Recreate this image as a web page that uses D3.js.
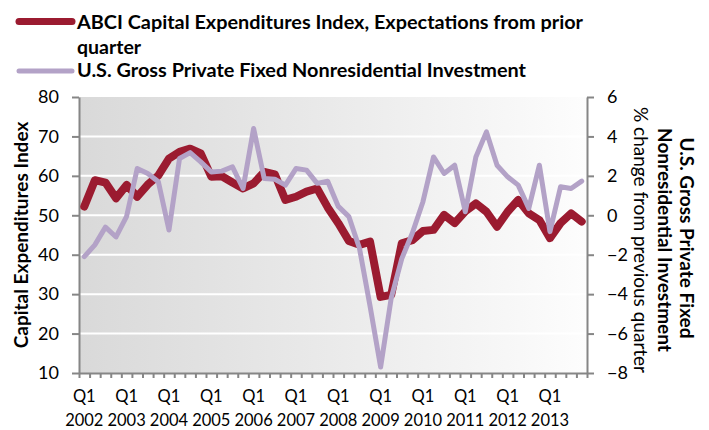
<!DOCTYPE html>
<html>
<head>
<meta charset="utf-8">
<script src="https://cdn.jsdelivr.net/npm/d3@7"></script>
<style>
  body { margin: 0; background: #fff; }
  svg text { font-family: Lato, "Open Sans", sans-serif; fill: #000; }
  .axis path, .axis line { stroke: #868686; stroke-width: 2; }
</style>
</head>
<body>
<svg id="chart" width="709" height="430"></svg>
<script>
// quarters 2002 Q1 .. 2013 Q4
var years = ['2002', '2003', '2004', '2005', '2006', '2007', '2008', '2009', '2010', '2011', '2012', '2013'];
var quarterNames = ['Q1', 'Q2', 'Q3', 'Q4'];

// ABCI capex expectations index (left axis)
var abci = [52.2, 58.9, 58.3, 54.3, 57.7, 54.7, 57.8, 60.1, 64.4, 66.1, 66.9, 65.7,
            59.8, 59.9, 58.3, 56.8, 58.1, 61.0, 60.4, 53.9, 54.7, 56.0, 56.8, 52.0,
            48.0, 43.5, 42.5, 43.3, 29.3, 29.8, 42.9, 43.7, 46.0, 46.3, 50.1, 48.0,
            51.0, 53.0, 50.9, 47.1, 50.9, 53.9, 50.5, 48.8, 44.2, 48.0, 50.5, 48.4];

// US gross private fixed nonresidential investment, % q/q (right axis)
var investment = [-2.1, -1.5, -0.6, -1.1, -0.05, 2.37, 2.12, 1.7, -0.75, 2.88, 3.18, 2.71,
                  2.2, 2.24, 2.46, 1.36, 4.4, 1.87, 1.83, 1.53, 2.37, 2.29, 1.62, 1.73,
                  0.45, -0.07, -1.67, -4.6, -7.7, -4.2, -2.2, -0.9, 0.69, 2.96, 2.12, 2.54,
                  0.18, 2.96, 4.23, 2.54, 1.95, 1.53, 0.35, 2.54, -0.83, 1.45, 1.36, 1.73];

var leftTicks = [10, 20, 30, 40, 50, 60, 70, 80];
var rightTicks = [-8, -6, -4, -2, 0, 2, 4, 6];

var seriesNames = ['ABCI Capital Expenditures Index, Expectations from prior', 'quarter',
                   'U.S. Gross Private Fixed Nonresidential Investment'];
var colors = { abci: '#9b1b30', inv: '#b3a2c7' };

// layout
var plot = { left: 79, right: 587, top: 97, bottom: 373 };

var quarters = [];
years.forEach(function(y) {
  quarterNames.forEach(function(q) { quarters.push(q + ' ' + y); });
});

var svg = d3.select('#chart');

// scales
var x = d3.scaleBand().domain(quarters).range([plot.left, plot.right]).padding(0);
var xb = d3.scaleLinear().domain([0, quarters.length]).range([plot.left, plot.right]);
var yL = d3.scaleLinear().domain([10, 80]).range([plot.bottom, plot.top]);
var yR = d3.scaleLinear().domain([-8, 6]).range([plot.bottom, plot.top]);

function cx(i) { return x(quarters[i]) + x.bandwidth() / 2; }

// background gradient
var defs = svg.append('defs');
var grad = defs.append('linearGradient')
  .attr('id', 'bg')
  .attr('x1', '0%').attr('x2', '100%')
  .attr('y1', '0%').attr('y2', '0%');
grad.append('stop').attr('offset', '0%').attr('stop-color', '#d9d9d9');
grad.append('stop').attr('offset', '55%').attr('stop-color', '#ececec');
grad.append('stop').attr('offset', '100%').attr('stop-color', '#fdfdfd');

svg.append('rect')
  .attr('x', plot.left)
  .attr('y', plot.top)
  .attr('width', plot.right - plot.left)
  .attr('height', plot.bottom - plot.top)
  .style('fill', 'url(#bg)');

// gridlines
svg.append('g')
  .selectAll('line')
  .data(leftTicks.filter(function(d) { return d > 10 && d < 80; }))
  .enter()
  .append('line')
  .attr('x1', plot.left)
  .attr('x2', plot.right)
  .attr('y1', function(d) { return yL(d); })
  .attr('y2', function(d) { return yL(d); })
  .style('stroke', '#fff')
  .style('stroke-width', 2);

// axes
svg.append('g')
  .attr('class', 'axis')
  .attr('transform', 'translate(' + plot.left + ',0)')
  .call(d3.axisLeft(yL).tickValues(leftTicks).tickSize(7).tickSizeOuter(0).tickPadding(13))
  .call(function(g) { g.selectAll('text').style('font-size', '18px'); });

svg.append('g')
  .attr('class', 'axis')
  .attr('transform', 'translate(' + plot.right + ',0)')
  .call(d3.axisRight(yR).tickValues(rightTicks).tickSize(7).tickSizeOuter(0).tickPadding(13))
  .call(function(g) { g.selectAll('text').style('font-size', '18px'); });

svg.append('g')
  .attr('class', 'axis')
  .attr('transform', 'translate(0,' + plot.bottom + ')')
  .call(d3.axisBottom(xb).tickValues(d3.range(quarters.length + 1)).tickSize(5).tickSizeOuter(0).tickFormat(''));

// category labels: Q1 + year
var q1 = quarters.filter(function(q) { return q.indexOf('Q1') === 0; });
var xl = svg.append('g').style('font-size', '16.5px').attr('text-anchor', 'middle');
xl.selectAll('text.q')
  .data(q1)
  .enter()
  .append('text')
  .attr('x', function(d) { return x(d) + x.bandwidth() / 2; })
  .attr('y', 402)
  .text(function(d) { return d.split(' ')[0]; });
xl.selectAll('text.y')
  .data(q1)
  .enter()
  .append('text')
  .attr('x', function(d) { return x(d) + x.bandwidth() / 2; })
  .attr('y', 426)
  .text(function(d) { return d.split(' ')[1]; });

// axis titles
svg.append('text')
  .attr('transform', 'translate(28,235) rotate(-90)')
  .attr('text-anchor', 'middle')
  .style('font-size', '19px')
  .style('font-weight', 'bold')
  .text('Capital Expenditures Index');

var rt = svg.append('g')
  .attr('text-anchor', 'middle')
  .style('font-size', '19px');
rt.append('text')
  .attr('transform', 'translate(680,238) rotate(90)')
  .style('font-weight', 'bold')
  .text('U.S. Gross Private Fixed');
rt.append('text')
  .attr('transform', 'translate(658,240) rotate(90)')
  .style('font-weight', 'bold')
  .text('Nonresidential Investment');
rt.append('text')
  .attr('transform', 'translate(634,240) rotate(90)')
  .text('% change from previous quarter');

// lines
var lineL = d3.line()
  .x(function(d, i) { return cx(i); })
  .y(function(d) { return yL(d); });
var lineR = d3.line()
  .x(function(d, i) { return cx(i); })
  .y(function(d) { return yR(d); });

svg.append('path')
  .datum(abci)
  .attr('d', lineL)
  .style('fill', 'none')
  .style('stroke', colors.abci)
  .style('stroke-width', 8)
  .style('stroke-linejoin', 'round')
  .style('stroke-linecap', 'round');

svg.append('path')
  .datum(investment)
  .attr('d', lineR)
  .style('fill', 'none')
  .style('stroke', colors.inv)
  .style('stroke-width', 5)
  .style('stroke-linejoin', 'round')
  .style('stroke-linecap', 'round');

// legend
var legend = svg.append('g')
  .style('font-size', '19.5px')
  .style('font-weight', 'bold');
legend.append('line')
  .attr('x1', 19).attr('x2', 72).attr('y1', 21.5).attr('y2', 21.5)
  .style('stroke', colors.abci).style('stroke-width', 7).style('stroke-linecap', 'round');
legend.append('text').attr('x', 77).attr('y', 28.5)
  .attr('textLength', 506).attr('lengthAdjust', 'spacingAndGlyphs')
  .text(seriesNames[0]);
legend.append('text').attr('x', 77).attr('y', 53.5).text(seriesNames[1]);
legend.append('line')
  .attr('x1', 19).attr('x2', 72).attr('y1', 71).attr('y2', 71)
  .style('stroke', colors.inv).style('stroke-width', 5).style('stroke-linecap', 'round');
legend.append('text').attr('x', 77).attr('y', 77)
  .attr('textLength', 449).attr('lengthAdjust', 'spacingAndGlyphs')
  .text(seriesNames[2]);
</script>
</body>
</html>
